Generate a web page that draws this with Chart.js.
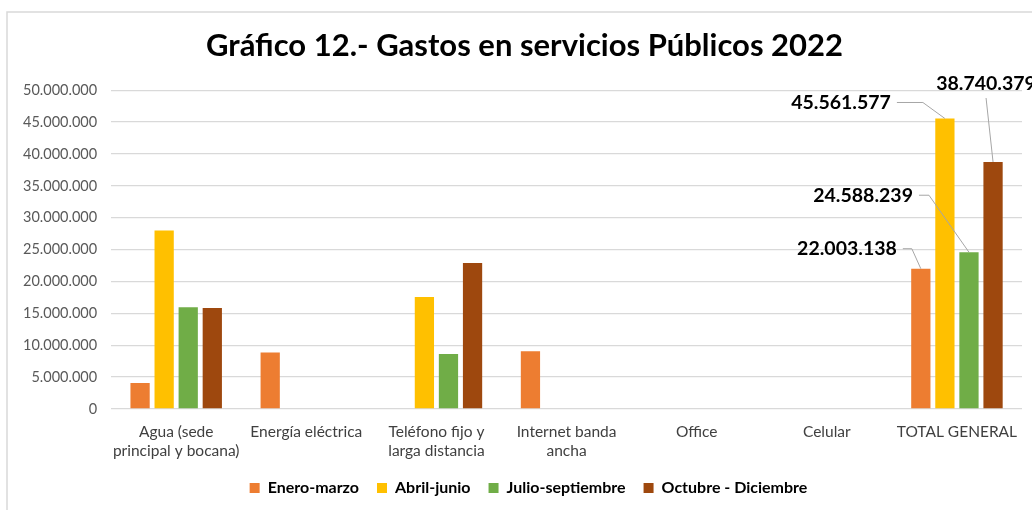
<!DOCTYPE html>
<html>
<head>
<meta charset="utf-8">
<script src="https://cdn.jsdelivr.net/npm/chart.js@4.4.0/dist/chart.umd.min.js"></script>
<style>
  html, body { margin: 0; padding: 0; background: #fff; }
  canvas { display: block; }
</style>
</head>
<body>
<canvas id="gastosChart" width="1032" height="510"></canvas>
<script>
const categories = [
  ['Agua (sede', 'principal y bocana)'],
  'Energía eléctrica',
  ['Teléfono fijo y', 'larga distancia'],
  ['Internet banda', 'ancha'],
  'Office',
  'Celular',
  'TOTAL GENERAL'
];
const seriesNames = ['Enero-marzo', 'Abril-junio', 'Julio-septiembre', 'Octubre - Diciembre'];
const eneroMarzo = [4070000, 8880000, 0, 9050000, 0, 0, 22003138];
const abrilJunio = [27980000, 0, 17580000, 0, 0, 0, 45561577];
const julioSeptiembre = [15950000, 0, 8640000, 0, 0, 0, 24588239];
const octubreDiciembre = [15860000, 0, 22880000, 0, 0, 0, 38740379];
const yTicks = [0, 5000000, 10000000, 15000000, 20000000, 25000000, 30000000, 35000000, 40000000, 45000000, 50000000];

const colors = ['#ED7D31', '#FFC000', '#70AD47', '#9E480E'];
const FONT = 'Lato, "Open Sans", sans-serif';

const fmt = v => Math.round(v).toString().replace(/\B(?=(\d{3})+(?!\d))/g, '.');

// frame around the chart, like the excel chart border
const framePlugin = {
  id: 'frame',
  beforeDraw(chart) {
    const ctx = chart.ctx;
    ctx.save();
    ctx.strokeStyle = '#d9d9d9';
    ctx.lineWidth = 1.5;
    ctx.beginPath();
    ctx.moveTo(7, chart.height);
    ctx.lineTo(7, 12);
    ctx.lineTo(chart.width, 12);
    ctx.stroke();
    ctx.restore();
  },
  afterLayout(chart) {
    // x axis is kept short so the legend sits close; give its labels room again
    chart.scales.x.bottom += 12;
    // the original frame runs past the right edge, so title and legend sit a bit right
    chart.titleBlock.left += 9;
    chart.titleBlock.right += 9;
    chart.legend.left += 13;
    chart.legend.right += 13;
  }
};

// labels with leader lines on the last category only
const totalLabels = {
  id: 'totalLabels',
  afterDatasetsDraw(chart, args, opts) {
    const ctx = chart.ctx;
    ctx.save();
    ctx.font = 'bold 19.5px ' + FONT;
    ctx.fillStyle = '#000';
    ctx.strokeStyle = '#a6a6a6';
    ctx.lineWidth = 1;
    chart.data.datasets.forEach((ds, i) => {
      const meta = chart.getDatasetMeta(i);
      const idx = ds.data.length - 1;
      const bar = meta.data[idx];
      const o = opts.offsets[i];
      const text = fmt(ds.data[idx]);
      const bx = bar.x, by = bar.y;
      ctx.textBaseline = 'middle';
      if (o.above) {
        const cx = bx + o.dx, cy = by + o.dy;
        ctx.textAlign = 'center';
        ctx.fillText(text, cx, cy);
        ctx.beginPath();
        ctx.moveTo(cx, cy + 14);
        ctx.lineTo(bx, by);
        ctx.stroke();
      } else {
        const rx = bx + o.dx, cy = by + o.dy;
        ctx.textAlign = 'right';
        ctx.fillText(text, rx, cy);
        ctx.beginPath();
        ctx.moveTo(rx + 6, cy);
        ctx.lineTo(rx + 6 + o.run, cy);
        ctx.lineTo(bx, by);
        ctx.stroke();
      }
    });
    ctx.restore();
  }
};

const dataToShow = {
  labels: categories,
  datasets: [eneroMarzo, abrilJunio, julioSeptiembre, octubreDiciembre].map((d, i) => ({
    label: seriesNames[i],
    data: d,
    backgroundColor: colors[i],
    borderWidth: 0,
    categoryPercentage: 0.74,
    barPercentage: 0.8
  }))
};

const config = {
  type: 'bar',
  data: dataToShow,
  plugins: [framePlugin, totalLabels],
  options: {
    responsive: false,
    animation: false,
    layout: { padding: { left: 9, right: 10, top: 0, bottom: 4 } },
    plugins: {
      title: {
        display: true,
        text: 'Gráfico 12.- Gastos en servicios Públicos 2022',
        color: '#000',
        font: { family: FONT, size: 31, weight: 'bold' },
        padding: { top: 27, bottom: 26 }
      },
      legend: {
        position: 'bottom',
        labels: {
          color: '#000',
          font: { family: FONT, size: 16, weight: 'bold' },
          boxWidth: 10,
          boxHeight: 10,
          padding: 18
        }
      },
      tooltip: { enabled: false },
      totalLabels: {
        offsets: [
          { dx: -24, dy: -20, run: 9 },
          { dx: -54, dy: -16, run: 26 },
          { dx: -56, dy: -57, run: 10 },
          { dx: -7, dy: -78, above: true }
        ]
      }
    },
    scales: {
      x: {
        grid: { display: false, drawTicks: false },
        border: { display: false },
        ticks: {
          color: '#404040',
          font: { family: FONT, size: 15.5, lineHeight: '19px' },
          maxRotation: 0,
          autoSkip: false,
          padding: 13
        },
        afterFit: axis => { axis.height = 53; }
      },
      y: {
        min: 0,
        max: 50000000,
        afterBuildTicks: axis => { axis.ticks = yTicks.map(v => ({ value: v })); },
        grid: { color: '#d9d9d9', lineWidth: 1.3, drawTicks: false },
        border: { display: false },
        ticks: {
          color: '#595959',
          font: { family: FONT, size: 14.5 },
          padding: 14,
          callback: v => fmt(v)
        }
      }
    }
  }
};

new Chart(document.getElementById('gastosChart'), config);
</script>
</body>
</html>
